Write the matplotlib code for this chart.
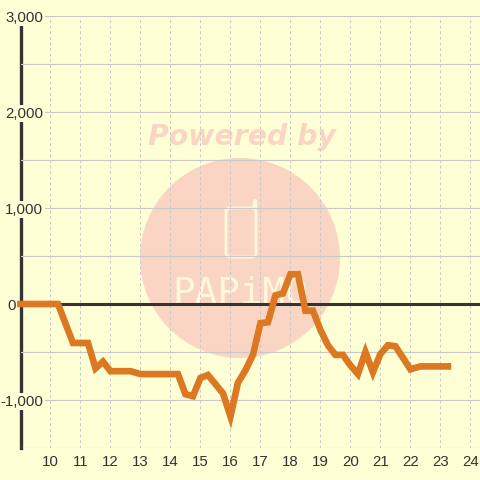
import matplotlib
matplotlib.use("Agg")
import matplotlib.pyplot as plt
from matplotlib.patches import Circle, FancyBboxPatch
from matplotlib.lines import Line2D
from matplotlib.transforms import Affine2D

hours = [9, 10.25, 10.75, 11.25, 11.5, 11.75, 12, 12.67, 13, 14.25, 14.5, 14.75, 15, 15.25,
         15.75, 16, 16.25, 16.5, 16.75, 17, 17.25, 17.5, 17.75, 18, 18.25, 18.5, 18.75, 19,
         19.25, 19.5, 19.75, 20, 20.25, 20.5, 20.75, 21, 21.25, 21.5, 21.75, 22, 22.33, 23.25]
values = [0, 0, -406, -406, -670, -600, -700, -700, -730, -730, -940, -960, -770, -740,
          -930, -1170, -820, -690, -530, -200, -190, 90, 110, 310, 310, -70, -70, -270,
          -430, -530, -530, -640, -730, -500, -710, -520, -430, -440, -560, -680, -650, -650]
x_ticks = list(range(10, 25))
y_ticks = [-1000, 0, 1000, 2000, 3000]
y_labels = ["-1,000", "0", "1,000", "2,000", "3,000"]
minor_y = [-1500, -500, 500, 1500, 2500]

BG = "#FFFFD5"
GRID = "#C9C9C9"
DARK = "#333333"
WM = "#FBD5C3"
WM_LIGHT = "#FFF8DA"

plt.rcParams["font.family"] = ["Liberation Sans", "DejaVu Sans"]
fig = plt.figure(figsize=(4.8, 4.8), dpi=100, facecolor=BG)
ax = fig.add_axes([20.5 / 480, 32 / 480, 459.5 / 480, 432 / 480], facecolor=BG)
ax.set_xlim(9, 24.32)
ax.set_ylim(-1500, 3000)

# pixel coordinates with the origin at the top left, for the watermark
px = Affine2D().scale(1, -1).translate(0, 480)
ax.add_patch(Circle((240, 258), 100, transform=px, facecolor=WM, edgecolor="none", zorder=0.42))
ax.add_patch(FancyBboxPatch((226, 208), 30, 49, boxstyle="round,pad=0,rounding_size=4", transform=px,
                            facecolor="none", edgecolor=WM_LIGHT, linewidth=2.1, zorder=0.45))
ax.add_line(Line2D([255, 255], [208, 201], transform=px, color=WM_LIGHT, linewidth=3.2,
                   solid_capstyle="round", zorder=0.45))
ax.text(240, 304, "PAPiMO", transform=px, ha="center", va="baseline", color=WM_LIGHT,
        fontsize=27, family="DejaVu Sans Mono", fontweight="normal", zorder=0.45)
ax.text(242, 145, "Powered by", transform=px, ha="center", va="baseline", color=WM,
        fontsize=20.4, family="DejaVu Sans", fontweight="bold", fontstyle="oblique", zorder=0.45)

ax.set_xticks(x_ticks)
ax.set_yticks(y_ticks)
ax.set_yticks(minor_y, minor=True)
ax.set_yticklabels(y_labels)
ax.grid(True, axis="y", which="both", color=GRID, linewidth=0.85)
ax.grid(True, axis="x", which="major", color=GRID, linewidth=0.72, linestyle=(0, (2.8, 2.8)))
ax.set_axisbelow(True)
ax.tick_params(axis="both", which="both", length=0)
ax.tick_params(axis="x", labelsize=10.8, labelcolor=DARK, pad=5)
ax.tick_params(axis="y", labelsize=10.8, labelcolor=DARK, pad=-16.2)
for value, tick in zip(y_ticks, ax.yaxis.get_major_ticks()):
    if value == 0:
        tick.set_pad(3.2)
    else:
        tick.label1.set_bbox(dict(facecolor=BG, edgecolor="none", pad=1.2))
    tick.label1.set_ha("right")

for s in ("top", "right", "bottom"):
    ax.spines[s].set_visible(False)
ax.spines["left"].set_color(DARK)
ax.spines["left"].set_linewidth(2.4)
ax.spines["left"].set_zorder(0.4)

ax.axhline(0, color=DARK, linewidth=2.2, zorder=2)
ax.plot(hours, values, color="#DC7822", linewidth=4.8, solid_joinstyle="miter",
        solid_capstyle="projecting", clip_on=False, zorder=3)

fig.savefig("out.png", dpi=100, facecolor=BG)
